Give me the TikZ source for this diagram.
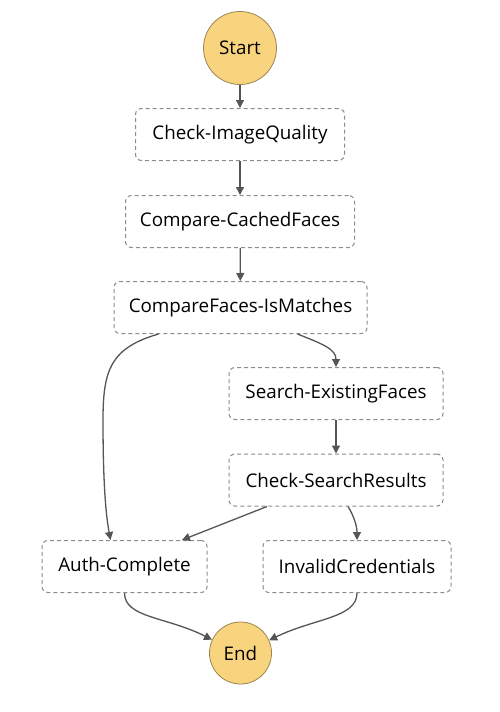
\documentclass[tikz,border=0pt]{standalone}
\usepackage{fontspec}
\setmainfont{Open Sans}
\usetikzlibrary{arrows.meta}
\definecolor{termfill}{HTML}{F9D47E}
\definecolor{termline}{HTML}{9C8450}
\definecolor{boxline}{HTML}{8C8C8C}
\definecolor{edgecol}{HTML}{555555}
\begin{document}
\begin{tikzpicture}[x=1pt,y=-1pt,
  statebox/.style={draw=boxline, dash pattern=on 4pt off 3pt, rounded corners=6pt,
    line width=1pt, minimum height=52pt, inner sep=0pt,
    font=\fontsize{18.8}{22}\selectfont},
  term/.style={circle, draw=termline, fill=termfill, line width=0.8pt, inner sep=0pt,
    font=\fontsize{18.8}{22}\selectfont},
  edge/.style={draw=edgecol, line width=1.3pt, -{Triangle[length=8pt,width=8pt]}}]
\useasboundingbox (0,0) rectangle (500,712);
\node[term, minimum size=73pt] (start) at (240,48) {Start};
\node[statebox, minimum width=209pt] (ciq) at (240,134.5) {Check-ImageQuality};
\node[statebox, minimum width=229pt] (ccf) at (240,221.5) {Compare-CachedFaces};
\node[statebox, minimum width=253pt] (cfim) at (240.5,307.5) {CompareFaces-IsMatches};
\node[statebox, minimum width=214pt] (sef) at (336,393.5) {Search-ExistingFaces};
\node[statebox, minimum width=214pt] (csr) at (336,480) {Check-SearchResults};
\node[statebox, minimum width=165pt] (auth) at (124.5,566.5) {Auth-Complete};
\node[statebox, minimum width=188pt] (inv) at (357,566.5) {InvalidCredentials};
\node[term, minimum size=62pt] (endn) at (240.5,653) {End};
\coordinate (ca1) at (103,420);
\draw[edge] (start) -- (ciq);
\draw[edge] (ciq) -- (ccf);
\draw[edge] (ccf) -- (cfim);
\draw[edge] ([xshift=-82pt]cfim.south) .. controls +(-48,14) and +(0,-50) .. (ca1)
  .. controls +(0,70) and +(-4,-22) .. ([xshift=-14pt]auth.north);
\draw[edge] ([xshift=57pt]cfim.south) .. controls +(25,10) and +(0,-18) .. (sef.north);
\draw[edge] (sef) -- (csr);
\draw[edge] ([xshift=-69pt]csr.south) -- ([xshift=57.5pt]auth.north);
\draw[edge] ([xshift=12pt]csr.south) .. controls +(5,8) and +(0,-15) .. (inv.north);
\draw[edge] (auth.south) .. controls +(0,25) and +(-45,-23) .. (endn.155);
\draw[edge] (inv.south) .. controls +(0,25) and +(45,-22) .. (endn.24);
\end{tikzpicture}
\end{document}
